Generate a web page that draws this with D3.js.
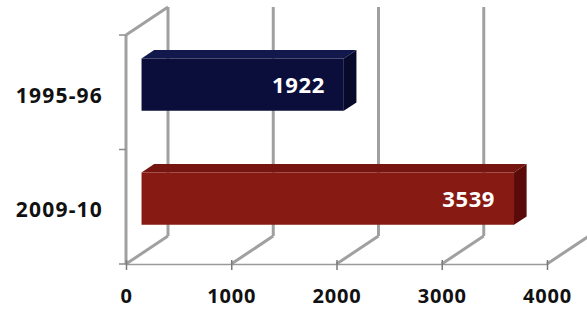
<!DOCTYPE html>
<html>
<head>
<meta charset="utf-8">
<script src="https://cdn.jsdelivr.net/npm/d3@7"></script>
<style>
  body { margin: 0; background: #ffffff; }
  svg { display: block; }
  text { font-family: "Open Sans", "Liberation Sans", sans-serif; font-weight: bold; }
</style>
</head>
<body>
<div id="viz"></div>
<script>
// data
const categories = ["1995-96", "2009-10"];
const values = [1922, 3539];
const barColors = ["#0b0e3a", "#871a12"];
const barTops = ["#12174c", "#761410"];
const barSides = ["#080a2c", "#5a0b09"];
const xTicks = [0, 1000, 2000, 3000, 4000];

const W = 587, H = 310;

// front plane of the 3d box
const plane = { left: 126, right: 547, top: 35, bottom: 264 };
const depth = { dx: 42, dy: -28 };   // full depth vector
const barDepth = [0.37, 0.67];       // bar occupies this slice of depth

const svg = d3.select("#viz").append("svg")
	.attr("width", W).attr("height", H)
	.attr("viewBox", "0 0 " + W + " " + H);

const x = d3.scaleLinear().domain([0, 4000]).range([plane.left, plane.right]);
const y = d3.scaleBand().domain(categories).range([38, 266]);

function proj(px, py, t) {
	return [px + t * depth.dx, py + t * depth.dy];
}

const wallColor = "#a0a0a0";

// back grid lines (vertical on back wall)
svg.append("g").selectAll("line").data(xTicks).join("line")
	.attr("x1", d => proj(x(d), plane.top, 1)[0])
	.attr("y1", d => proj(x(d), plane.top, 1)[1])
	.attr("x2", d => proj(x(d), plane.bottom, 1)[0])
	.attr("y2", d => proj(x(d), plane.bottom, 1)[1])
	.attr("stroke", wallColor).attr("stroke-width", 3);

// floor diagonals
svg.append("g").selectAll("line").data(xTicks).join("line")
	.attr("x1", d => x(d)).attr("y1", plane.bottom)
	.attr("x2", d => proj(x(d), plane.bottom, 1)[0])
	.attr("y2", d => proj(x(d), plane.bottom, 1)[1])
	.attr("stroke", wallColor).attr("stroke-width", 3);

// left wall: front vertical and top diagonal
svg.append("line")
	.attr("x1", x(0)).attr("y1", plane.top)
	.attr("x2", x(0)).attr("y2", plane.bottom)
	.attr("stroke", wallColor).attr("stroke-width", 3);
svg.append("line")
	.attr("x1", x(0)).attr("y1", plane.top)
	.attr("x2", proj(x(0), plane.top, 1)[0])
	.attr("y2", proj(x(0), plane.top, 1)[1])
	.attr("stroke", wallColor).attr("stroke-width", 3);

// left ticks at category boundaries
const yEdges = [plane.top, (plane.top + plane.bottom) / 2, plane.bottom];
svg.append("g").selectAll("line").data(yEdges).join("line")
	.attr("x1", x(0) - 7).attr("x2", x(0))
	.attr("y1", d => d).attr("y2", d => d)
	.attr("stroke", "#8c8c8c").attr("stroke-width", 1.5);

// bottom axis
const axis = svg.append("g")
	.attr("transform", "translate(0," + plane.bottom + ")")
	.call(d3.axisBottom(x).tickValues(xTicks).tickSize(6).tickSizeOuter(0).tickFormat(d3.format("d")));
axis.select(".domain").attr("stroke", "#9a9a9a").attr("stroke-width", 1.5);
axis.selectAll(".tick line").attr("stroke", "#7a7a7a").attr("stroke-width", 1.5)
	.attr("y1", -4).attr("y2", 6);
axis.selectAll(".tick text")
	.attr("y", 39).attr("dy", null)
	.attr("fill", "#111").style("font-size", "20px").style("letter-spacing", "0.8px");

// category labels
svg.append("g").selectAll("text").data(categories).join("text")
	.attr("x", 103)
	.attr("y", d => y(d) + y.bandwidth() / 2 + 7.5)
	.attr("text-anchor", "end")
	.attr("fill", "#111")
	.style("font-size", "21px").style("letter-spacing", "1.2px")
	.text(d => d);

// 3d bars
const barH = y.bandwidth() * 0.46;
const bars = svg.append("g").selectAll("g").data(values).join("g");

bars.each(function (v, i) {
	const g = d3.select(this);
	const cy = y(categories[i]) + y.bandwidth() / 2;
	const top = cy - barH / 2, bot = cy + barH / 2;
	const f0 = barDepth[0], f1 = barDepth[1];
	const A = proj(x(0), top, f0), B = proj(x(v), top, f0);
	const C = proj(x(v), bot, f0), Dp = proj(x(0), bot, f0);
	const A1 = proj(x(0), top, f1), B1 = proj(x(v), top, f1), C1 = proj(x(v), bot, f1);
	// top face
	g.append("path")
		.attr("d", d3.line()([A, A1, B1, B]) + "Z")
		.attr("fill", barTops[i]);
	// side face
	g.append("path")
		.attr("d", d3.line()([B, B1, C1, C]) + "Z")
		.attr("fill", barSides[i]);
	// front face
	g.append("path")
		.attr("d", d3.line()([A, B, C, Dp]) + "Z")
		.attr("fill", barColors[i]);
	// value label
	g.append("text")
		.attr("x", B[0] - 19)
		.attr("y", (A[1] + Dp[1]) / 2 + 8.5)
		.attr("text-anchor", "end")
		.attr("fill", "#ffffff")
		.style("font-size", "22px").style("letter-spacing", "0.6px")
		.text(v);
});
</script>
</body>
</html>
